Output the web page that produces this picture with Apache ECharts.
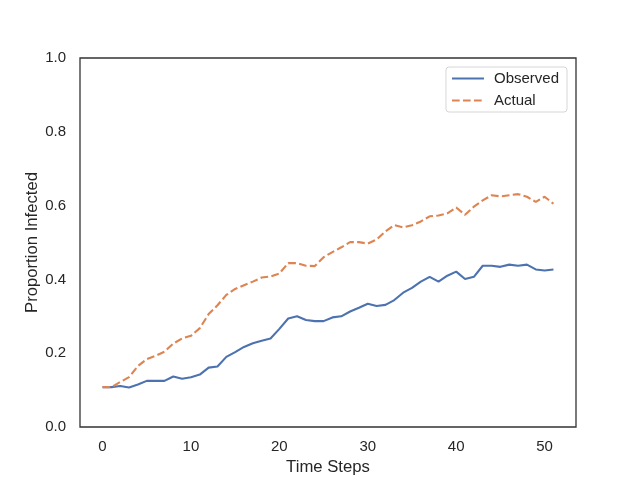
<!DOCTYPE html>
<html>
<head>
<meta charset="utf-8">
<script src="https://cdn.jsdelivr.net/npm/echarts@6/dist/echarts.min.js"></script>
<style>html,body{margin:0;padding:0;background:#fff;}#c{width:640px;height:480px;}</style>
</head>
<body>
<div id="c"></div>
<script>
const timeSteps = Array.from({length: 52}, (_, i) => i);
const observed = [0.108,0.108,0.111,0.107,0.115,0.125,0.125,0.125,0.137,0.131,0.135,0.142,0.161,0.164,0.190,0.203,0.217,0.227,0.234,0.240,0.266,0.294,0.300,0.290,0.287,0.287,0.297,0.300,0.313,0.323,0.334,0.328,0.331,0.344,0.364,0.377,0.394,0.407,0.394,0.410,0.421,0.401,0.407,0.437,0.437,0.434,0.440,0.437,0.440,0.427,0.424,0.427];
const actual = [0.108,0.108,0.122,0.135,0.165,0.184,0.193,0.204,0.226,0.240,0.247,0.268,0.306,0.330,0.358,0.374,0.384,0.394,0.405,0.408,0.416,0.444,0.444,0.437,0.436,0.460,0.474,0.487,0.501,0.501,0.497,0.508,0.530,0.547,0.541,0.547,0.557,0.571,0.573,0.579,0.595,0.575,0.597,0.614,0.628,0.625,0.628,0.631,0.624,0.610,0.624,0.605];
const xTicks = [0,10,20,30,40,50];
const yTicks = [0,0.2,0.4,0.6,0.8,1.0];

const font = "'Liberation Sans', Arial, sans-serif";
const txt = '#262626';
const chart = echarts.init(document.getElementById('c'), null, {renderer: 'canvas'});
chart.setOption({
  animation: false,
  backgroundColor: '#fff',
  textStyle: {fontFamily: font, color: txt},
  grid: {left: 80, right: 64, top: 58, bottom: 53, show: true, borderColor: '#333', borderWidth: 1.3, backgroundColor: 'transparent', containLabel: false, outerBoundsMode: 'none'},
  legend: {
    orient: 'vertical', right: 73, top: 67,
    itemWidth: 32, itemHeight: 12, itemGap: 7,
    backgroundColor: '#fff', borderColor: '#d6d6d6', borderWidth: 1, borderRadius: 3,
    padding: [4, 8, 4, 5],
    itemStyle: {opacity: 0},
    textStyle: {fontFamily: font, fontSize: 15, color: txt, padding: [0, 0, 0, 5]},
    data: ['Observed', 'Actual']
  },
  xAxis: {
    type: 'value', min: -2.55, max: 53.55,
    name: 'Time Steps', nameLocation: 'middle', nameGap: 32, nameMoveOverlap: false,
    nameTextStyle: {fontFamily: font, fontSize: 16.7, color: txt},
    axisLine: {show: false}, axisTick: {show: false}, splitLine: {show: false},
    axisLabel: {customValues: xTicks, fontFamily: font, fontSize: 15, color: txt, margin: 12, formatter: v => String(v)}
  },
  yAxis: {
    type: 'value', min: 0, max: 1, interval: 0.2,
    name: 'Proportion Infected', nameLocation: 'middle', nameGap: 39, nameMoveOverlap: false,
    nameTextStyle: {fontFamily: font, fontSize: 16.7, color: txt},
    axisLine: {show: false}, axisTick: {show: false}, splitLine: {show: false},
    axisLabel: {customValues: yTicks, fontFamily: font, fontSize: 15, color: txt, margin: 14, formatter: v => v.toFixed(1)}
  },
  series: [
    {name: 'Observed', type: 'line', data: timeSteps.map((t, i) => [t, observed[i]]), symbol: 'none',
     lineStyle: {color: '#4c72b0', width: 2.1}, itemStyle: {color: '#4c72b0'}},
    {name: 'Actual', type: 'line', data: timeSteps.map((t, i) => [t, actual[i]]), symbol: 'none',
     lineStyle: {color: '#dd8452', width: 2.1, type: [7.7, 3.3]}, itemStyle: {color: '#dd8452'}}
  ]
});
</script>
</body>
</html>
